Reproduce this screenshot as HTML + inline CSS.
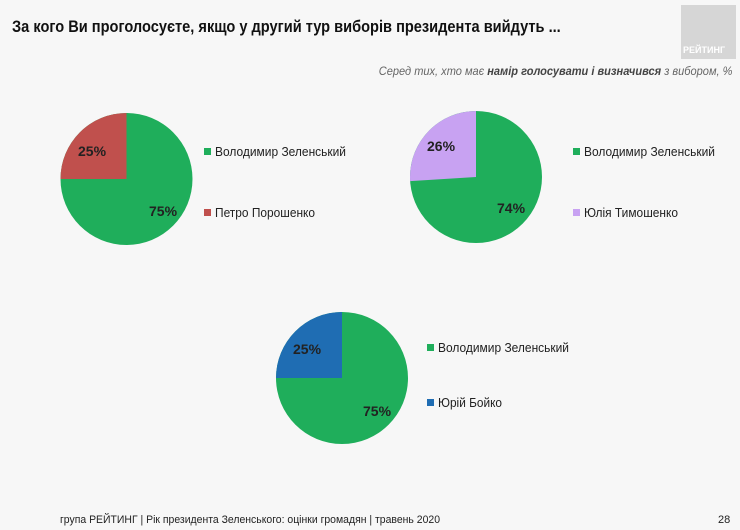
<!DOCTYPE html><html><head><meta charset="utf-8"><style>
body{margin:0;width:740px;height:530px;background:#f7f7f7;font-family:"Liberation Sans",sans-serif;position:relative;overflow:hidden}
.t{position:absolute;white-space:nowrap}
</style></head><body>
<div class="t" style="left:12px;top:18px;font-size:16.5px;font-weight:bold;color:#111;transform:scaleX(0.885);transform-origin:left">За кого Ви проголосуєте, якщо у другий тур виборів президента вийдуть ...</div>
<div style="position:absolute;left:681px;top:5px;width:55px;height:54px;background:#d6d6d6"></div>
<div class="t" style="left:683px;top:45px;font-size:9px;font-weight:bold;color:#fff">РЕЙТИНГ</div>
<div class="t" style="right:8px;top:64px;font-size:12px;font-style:italic;color:#666;transform:scaleX(0.92);transform-origin:right">Серед тих, хто має <b style="color:#444">намір голосувати і визначився</b> з вибором, %</div>
<svg width="740" height="530" style="position:absolute;left:0;top:0" font-family="Liberation Sans" font-weight="bold">
<circle cx="126.5" cy="179" r="66" fill="#1fae5b"/>
<path d="M126.5 179 L126.5 113 A66 66 0 0 0 60.5 179 Z" fill="#c0504d"/>
<text x="78" y="156" font-size="14" fill="#222">25%</text>
<text x="149" y="216" font-size="14" fill="#222">75%</text>
<circle cx="476" cy="177" r="66" fill="#1fae5b"/>
<path d="M476 177 L476 111 A66 66 0 0 0 410.13 181.14 Z" fill="#c8a2f2"/>
<text x="427" y="151" font-size="14" fill="#222">26%</text>
<text x="497" y="213" font-size="14" fill="#222">74%</text>
<circle cx="342" cy="378" r="66" fill="#1fae5b"/>
<path d="M342 378 L342 312 A66 66 0 0 0 276 378 Z" fill="#1f6db3"/>
<text x="293" y="354" font-size="14" fill="#222">25%</text>
<text x="363" y="416" font-size="14" fill="#222">75%</text>
<g font-weight="normal" font-size="13" fill="#222">
<rect x="204" y="148" width="7" height="7" fill="#1fae5b"/><text x="215" y="156" textLength="131" lengthAdjust="spacingAndGlyphs">Володимир Зеленський</text>
<rect x="204" y="209" width="7" height="7" fill="#c0504d"/><text x="215" y="217" textLength="100" lengthAdjust="spacingAndGlyphs">Петро Порошенко</text>
<rect x="573" y="148" width="7" height="7" fill="#1fae5b"/><text x="584" y="156" textLength="131" lengthAdjust="spacingAndGlyphs">Володимир Зеленський</text>
<rect x="573" y="209" width="7" height="7" fill="#c8a2f2"/><text x="584" y="217" textLength="94" lengthAdjust="spacingAndGlyphs">Юлія Тимошенко</text>
<rect x="427" y="344" width="7" height="7" fill="#1fae5b"/><text x="438" y="352" textLength="131" lengthAdjust="spacingAndGlyphs">Володимир Зеленський</text>
<rect x="427" y="399" width="7" height="7" fill="#1f6db3"/><text x="438" y="407" textLength="64" lengthAdjust="spacingAndGlyphs">Юрій Бойко</text>
</g>
<g font-weight="normal" font-size="11" fill="#222">
<text x="60" y="523" textLength="380" lengthAdjust="spacingAndGlyphs">група РЕЙТИНГ |  Рік президента Зеленського: оцінки громадян | травень 2020</text>
<text x="718" y="523">28</text>
</g>
</svg>
</body></html>
